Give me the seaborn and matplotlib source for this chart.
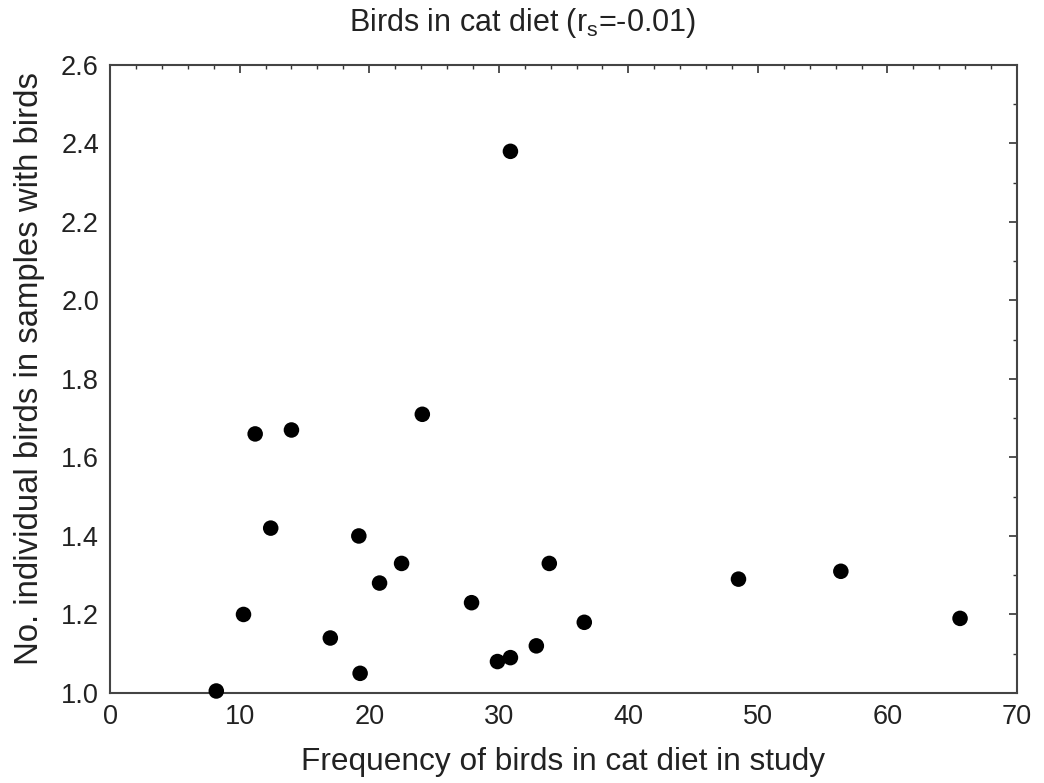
import pandas as pd
import matplotlib
matplotlib.use("Agg")
import matplotlib.pyplot as plt
import seaborn as sns
from matplotlib.ticker import MultipleLocator

# values
freq_birds = [8.2, 10.3, 11.2, 12.4, 14.0, 17.0, 19.2, 19.3, 20.8, 22.5, 24.1,
              27.9, 29.9, 30.9, 30.9, 32.9, 33.9, 36.6, 48.5, 56.4, 65.6]
n_birds = [1.005, 1.20, 1.66, 1.42, 1.67, 1.14, 1.40, 1.05, 1.28, 1.33, 1.71,
           1.23, 1.08, 1.09, 2.38, 1.12, 1.33, 1.18, 1.29, 1.31, 1.19]

df = pd.DataFrame({"freq": freq_birds, "n": n_birds})

sns.set_style("white")
plt.rcParams["font.family"] = ["Liberation Sans", "DejaVu Sans"]
plt.rcParams["mathtext.fontset"] = "custom"
plt.rcParams["mathtext.rm"] = "Liberation Sans"

fig = plt.figure(figsize=(10.44, 7.83), dpi=100)
ax = fig.add_axes([0.1054, 0.115, 0.8688, 0.802])

sns.scatterplot(data=df, x="freq", y="n", ax=ax, color="black", s=125,
                edgecolor="none", clip_on=False, zorder=3)

ax.set_xlim(0, 70)
ax.set_ylim(1.0, 2.6)
ax.xaxis.set_major_locator(MultipleLocator(10))
ax.xaxis.set_minor_locator(MultipleLocator(2))
ax.yaxis.set_major_locator(MultipleLocator(0.2))
ax.yaxis.set_minor_locator(MultipleLocator(0.1))
ax.yaxis.set_major_formatter(matplotlib.ticker.FormatStrFormatter("%.1f"))

ax.tick_params(which="both", direction="in", top=True, right=True,
               color="#333333", labelsize=19.5, labelcolor="#222222")
ax.tick_params(which="major", length=6, width=1.2, pad=8)
ax.tick_params(which="minor", length=3, width=1)
for sp in ax.spines.values():
    sp.set_color("#444444")
    sp.set_linewidth(1.5)

ax.set_xlabel("Frequency of birds in cat diet in study", fontsize=22.8,
              color="#222222", labelpad=12)
ax.set_ylabel("No. individual birds in samples with birds", fontsize=23.7,
              color="#222222")
ax.yaxis.set_label_coords(-0.072, 0.516)
fig.text(0.5, 0.971, r"Birds in cat diet (r$_{\mathrm{s}}$=-0.01)",
         ha="center", va="center", fontsize=22, color="#222222")

fig.savefig("out.png", dpi=100, facecolor="white")
